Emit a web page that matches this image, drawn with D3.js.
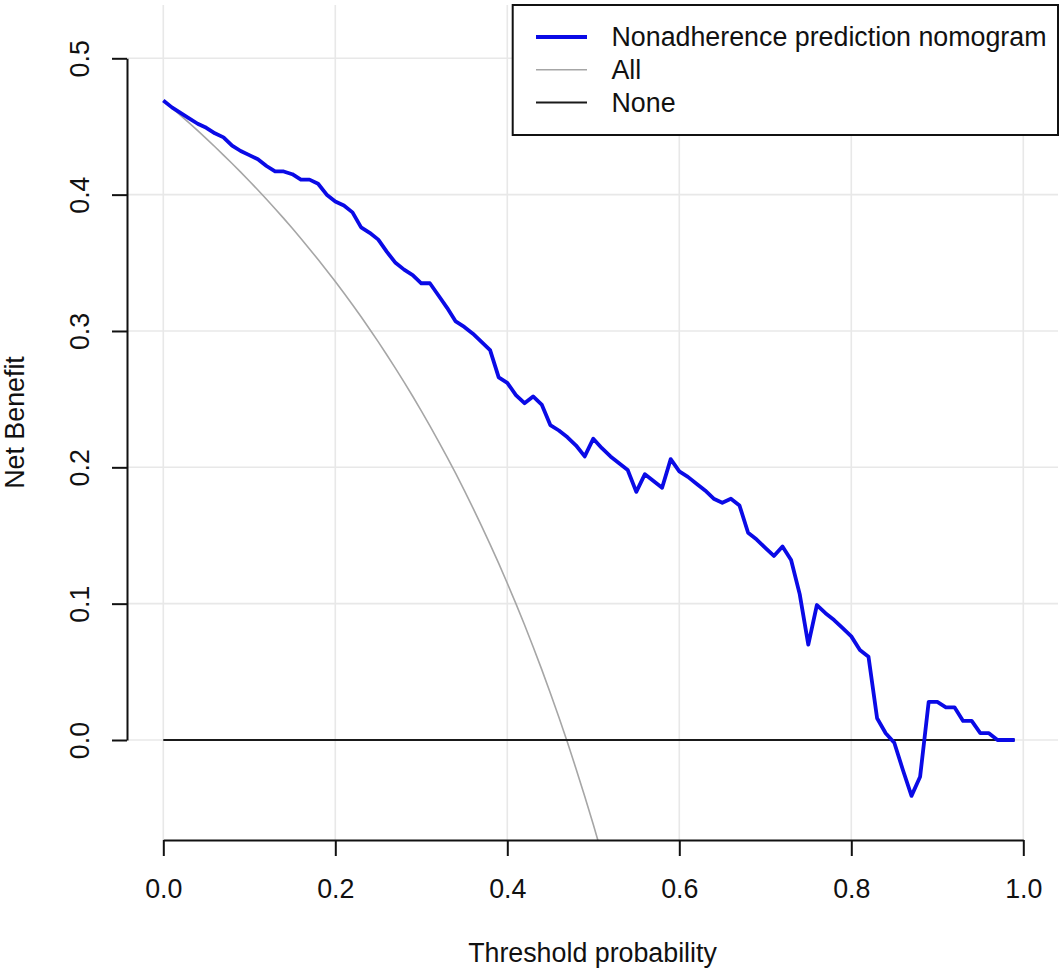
<!DOCTYPE html>
<html>
<head>
<meta charset="utf-8">
<script src="https://cdn.jsdelivr.net/npm/d3@7"></script>
<style>
  html, body { margin: 0; padding: 0; background: #fff; }
  svg { display: block; }
</style>
</head>
<body>
<svg id="chart" width="1063" height="969"></svg>
<script>
// threshold probabilities (x values of the curves)
const thresholds = [
  0.00, 0.01, 0.02, 0.03, 0.04, 0.05, 0.06, 0.07, 0.08, 0.09,
  0.10, 0.11, 0.12, 0.13, 0.14, 0.15, 0.16, 0.17, 0.18, 0.19,
  0.20, 0.21, 0.22, 0.23, 0.24, 0.25, 0.26, 0.27, 0.28, 0.29,
  0.30, 0.31, 0.32, 0.33, 0.34, 0.35, 0.36, 0.37, 0.38, 0.39,
  0.40, 0.41, 0.42, 0.43, 0.44, 0.45, 0.46, 0.47, 0.48, 0.49,
  0.50, 0.51, 0.52, 0.53, 0.54, 0.55, 0.56, 0.57, 0.58, 0.59,
  0.60, 0.61, 0.62, 0.63, 0.64, 0.65, 0.66, 0.67, 0.68, 0.69,
  0.70, 0.71, 0.72, 0.73, 0.74, 0.75, 0.76, 0.77, 0.78, 0.79,
  0.80, 0.81, 0.82, 0.83, 0.84, 0.85, 0.86, 0.87, 0.88, 0.89,
  0.90, 0.91, 0.92, 0.93, 0.94, 0.95, 0.96, 0.97, 0.98, 0.99
];

// net benefit of the nomogram, one value per threshold
const nomogramNB = [
  0.469, 0.464, 0.460, 0.456, 0.452, 0.449, 0.445, 0.442, 0.436, 0.432,
  0.429, 0.426, 0.421, 0.417, 0.417, 0.415, 0.411, 0.411, 0.408, 0.400,
  0.395, 0.392, 0.387, 0.376, 0.372, 0.367, 0.358, 0.350, 0.345, 0.341,
  0.335, 0.335, 0.326, 0.317, 0.307, 0.303, 0.298, 0.292, 0.286, 0.266,
  0.262, 0.253, 0.247, 0.252, 0.246, 0.231, 0.227, 0.222, 0.216, 0.208,
  0.221, 0.214, 0.208, 0.203, 0.198, 0.182, 0.195, 0.190, 0.185, 0.206,
  0.197, 0.193, 0.188, 0.183, 0.177, 0.174, 0.177, 0.172, 0.152, 0.147,
  0.141, 0.135, 0.142, 0.132, 0.107, 0.070, 0.099, 0.093, 0.088, 0.082,
  0.076, 0.066, 0.061, 0.016, 0.005, -0.002, -0.022, -0.041, -0.027, 0.028,
  0.028, 0.024, 0.024, 0.014, 0.014, 0.005, 0.005, 0.000, 0.000, 0.000
];

// net benefit of treating all (only the part that is visible, to 0.51)
const allNB = [
  0.4690, 0.4636, 0.4582, 0.4526, 0.4469, 0.4411, 0.4351, 0.4290, 0.4228, 0.4165,
  0.4100, 0.4034, 0.3966, 0.3897, 0.3826, 0.3753, 0.3679, 0.3602, 0.3524, 0.3444,
  0.3363, 0.3278, 0.3192, 0.3104, 0.3013, 0.2920, 0.2824, 0.2726, 0.2625, 0.2521,
  0.2414, 0.2304, 0.2191, 0.2075, 0.1955, 0.1831, 0.1703, 0.1571, 0.1435, 0.1295,
  0.1150, 0.1000, 0.0845, 0.0684, 0.0518, 0.0345, 0.0167, -0.0019, -0.0212, -0.0412,
  -0.0620, -0.0837
];

// net benefit of treating none
const noneNB = thresholds.map(() => 0);

const xTicks = [0, 0.2, 0.4, 0.6, 0.8, 1.0];
const yTicks = [0, 0.1, 0.2, 0.3, 0.4, 0.5];

const legendItems = [
  { label: "Nonadherence prediction nomogram", color: "#0a0ae6", width: 3.8 },
  { label: "All", color: "#a6a6a6", width: 1.6 },
  { label: "None", color: "#1a1a1a", width: 2 }
];

const font_family = "'Liberation Sans', Arial, Helvetica, sans-serif";
const font_size = 26.8;
const font_color = "#111";

// plot region (R style: axes sit on the edges of an extended region)
const plot = { left: 127, right: 1058, top: 5, bottom: 840 };

const svg = d3.select("#chart");

const x = d3.scaleLinear().domain([0, 1]).range([163.3, 1023.3]);
const y = d3.scaleLinear().domain([0, 0.5]).range([740, 58.3]);

svg.append("defs").append("clipPath")
    .attr("id", "plot-clip")
    .append("rect")
    .attr("x", plot.left)
    .attr("y", plot.top)
    .attr("width", plot.right - plot.left)
    .attr("height", plot.bottom - plot.top);

// Grid
const grid = svg.append("g").attr("stroke", "#e8e8e8").attr("stroke-width", 1.6);
grid.selectAll("line.v")
    .data(xTicks)
    .enter()
    .append("line")
    .attr("class", "v")
    .attr("x1", d => x(d)).attr("x2", d => x(d))
    .attr("y1", plot.top).attr("y2", plot.bottom);
grid.selectAll("line.h")
    .data(yTicks)
    .enter()
    .append("line")
    .attr("class", "h")
    .attr("x1", plot.left).attr("x2", plot.right)
    .attr("y1", d => y(d)).attr("y2", d => y(d));

// Curves
const line = d3.line()
    .x(d => x(d[0]))
    .y(d => y(d[1]));

const curves = svg.append("g").attr("clip-path", "url(#plot-clip)");

curves.append("path")
    .datum(thresholds.slice(0, allNB.length).map((t, i) => [t, allNB[i]]))
    .attr("fill", "none")
    .attr("stroke", legendItems[1].color)
    .attr("stroke-width", legendItems[1].width)
    .attr("d", line);

curves.append("path")
    .datum(thresholds.map((t, i) => [t, noneNB[i]]))
    .attr("fill", "none")
    .attr("stroke", legendItems[2].color)
    .attr("stroke-width", legendItems[2].width)
    .attr("d", line);

curves.append("path")
    .datum(thresholds.map((t, i) => [t, nomogramNB[i]]))
    .attr("fill", "none")
    .attr("stroke", legendItems[0].color)
    .attr("stroke-width", legendItems[0].width)
    .attr("stroke-linejoin", "round")
    .attr("d", line);

// X Axis
const xAxis = svg.append("g")
    .attr("transform", `translate(0,${plot.bottom})`)
    .call(d3.axisBottom(x).tickValues(xTicks).tickFormat(d3.format(".1f")).tickSize(16).tickSizeOuter(0));
xAxis.selectAll("path, line").attr("stroke", "#111").attr("stroke-width", 2);
xAxis.selectAll("text")
    .attr("y", 58)
    .attr("dy", null)
    .attr("fill", font_color)
    .style("font-family", font_family)
    .style("font-size", font_size + "px");

// Y Axis
const yAxis = svg.append("g")
    .attr("transform", `translate(${plot.left},0)`)
    .call(d3.axisLeft(y).tickValues(yTicks).tickFormat(d3.format(".1f")).tickSize(15).tickSizeOuter(0));
yAxis.selectAll("path, line").attr("stroke", "#111").attr("stroke-width", 2);
yAxis.selectAll("text")
    .attr("x", null)
    .attr("dy", null)
    .attr("text-anchor", "middle")
    .attr("transform", "translate(-38,0) rotate(-90)")
    .attr("fill", font_color)
    .style("font-family", font_family)
    .style("font-size", font_size + "px");
svg.selectAll(".domain").attr("fill", "none");

// Axis titles
svg.append("text")
    .attr("x", (plot.left + plot.right) / 2)
    .attr("y", 962)
    .attr("text-anchor", "middle")
    .attr("fill", font_color)
    .attr("font-family", font_family)
    .attr("font-size", font_size)
    .text("Threshold probability");

svg.append("text")
    .attr("transform", `translate(24,${(plot.top + plot.bottom) / 2}) rotate(-90)`)
    .attr("text-anchor", "middle")
    .attr("fill", font_color)
    .attr("font-family", font_family)
    .attr("font-size", font_size)
    .text("Net Benefit");

// Legend
const legend = svg.append("g");
legend.append("rect")
    .attr("x", 512.7)
    .attr("y", plot.top)
    .attr("width", plot.right - 512.7)
    .attr("height", 130)
    .attr("fill", "#fff")
    .attr("stroke", "#111")
    .attr("stroke-width", 2);

const rows = legend.selectAll("g.row")
    .data(legendItems)
    .enter()
    .append("g")
    .attr("class", "row")
    .attr("transform", (d, i) => `translate(0,${46 + i * 32.8})`);

rows.append("line")
    .attr("x1", 536).attr("x2", 587)
    .attr("y1", -9).attr("y2", -9)
    .attr("stroke", d => d.color)
    .attr("stroke-width", d => d.width);

rows.append("text")
    .attr("x", 611.5)
    .attr("y", 0)
    .attr("fill", font_color)
    .attr("font-family", font_family)
    .attr("font-size", font_size)
    .text(d => d.label);
</script>
</body>
</html>
